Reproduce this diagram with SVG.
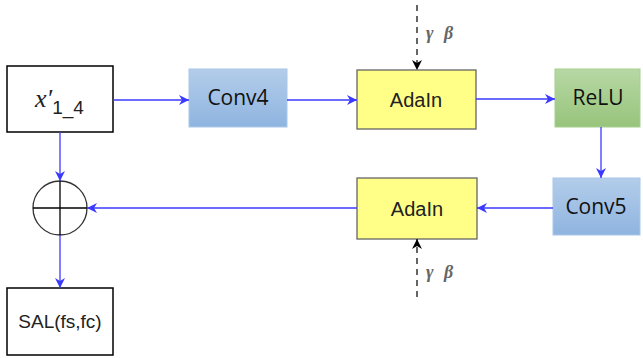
<svg xmlns="http://www.w3.org/2000/svg" width="643" height="358" viewBox="0 0 643 358">
<defs>
<linearGradient id="gBlue" x1="0" y1="0" x2="0" y2="1"><stop offset="0" stop-color="#b3cdea"/><stop offset="1" stop-color="#8fb4e0"/></linearGradient>
<linearGradient id="gGreen" x1="0" y1="0" x2="0" y2="1"><stop offset="0" stop-color="#b7d8a4"/><stop offset="1" stop-color="#97c47c"/></linearGradient>
<marker id="ab" viewBox="0 0 10 10" refX="10" refY="5" markerWidth="10" markerHeight="10" markerUnits="userSpaceOnUse" orient="auto"><path d="M0,0 L10,5 L0,10 L3,5 Z" fill="#3a3aff"/></marker>
<marker id="ak" viewBox="0 0 10 10" refX="10" refY="5" markerWidth="10" markerHeight="10" markerUnits="userSpaceOnUse" orient="auto"><path d="M0,0 L10,5 L0,10 L3,5 Z" fill="#000"/></marker>
</defs>
<style>
.plain{fill:#fff;stroke:#000;stroke-width:1.5}
.conv{fill:url(#gBlue);stroke:#a9c8ea;stroke-width:1}
.relu{fill:url(#gGreen);stroke:#a6d08e;stroke-width:1}
.ada{fill:#ffff88;stroke:#666;stroke-width:1.3}
.t{font-family:"Open Sans","Liberation Sans",sans-serif;font-size:21px;fill:#111;text-anchor:middle}
.ta{font-family:"Liberation Sans",sans-serif;font-size:20px;fill:#222;text-anchor:middle}
.ts{font-family:"Liberation Sans",sans-serif;font-size:19px;fill:#222;text-anchor:middle}
.blue{stroke:#3a3aff;stroke-width:1.3;fill:none}
.dash{stroke:#000;stroke-width:1.2;stroke-dasharray:6,5;fill:none}
.gb{font-family:"Liberation Serif",serif;font-style:italic;font-weight:bold;font-size:18px;fill:#666;letter-spacing:3px}
</style>
<g id="x14"><rect class="plain" x="7" y="66" width="106" height="66"/><text x="35" y="107" font-family="Liberation Serif,serif" font-style="italic" font-size="26" fill="#222">x′<tspan font-style="normal" font-family="Liberation Sans,sans-serif" font-size="19" dy="7">1_4</tspan></text></g>
<g id="conv4"><rect class="conv" x="189" y="69" width="98" height="58"/><text class="t" x="238" y="105">Conv4</text></g>
<g id="adain1"><rect class="ada" x="357" y="70" width="119" height="59"/><text class="ta" x="416" y="107">AdaIn</text></g>
<g id="relu"><rect class="relu" x="555" y="69" width="85" height="58"/><text class="t" x="598" y="105">ReLU</text></g>
<g id="conv5"><rect class="conv" x="553" y="178" width="87" height="57"/><text class="t" x="596" y="214">Conv5</text></g>
<g id="adain2"><rect class="ada" x="357" y="178" width="120" height="61"/><text class="ta" x="417" y="216">AdaIn</text></g>
<g id="sum"><circle cx="60" cy="208" r="27" fill="#fff" stroke="#333" stroke-width="1.3"/><line x1="33" y1="208" x2="87" y2="208" stroke="#000" stroke-width="1.3"/><line x1="60" y1="181" x2="60" y2="235" stroke="#000" stroke-width="1.3"/></g>
<g id="sal"><rect class="plain" x="7" y="288" width="106" height="67"/><text class="ts" x="60" y="328">SAL(fs,fc)</text></g>
<g id="connectors">
<line class="blue" x1="113" y1="100" x2="189" y2="100" marker-end="url(#ab)"/>
<line class="blue" x1="287" y1="100" x2="357" y2="100" marker-end="url(#ab)"/>
<line class="blue" x1="476" y1="99" x2="555" y2="99" marker-end="url(#ab)"/>
<line class="blue" x1="601" y1="127" x2="601" y2="178" marker-end="url(#ab)"/>
<line class="blue" x1="553" y1="208" x2="477" y2="208" marker-end="url(#ab)"/>
<line class="blue" x1="357" y1="208" x2="87" y2="208" marker-end="url(#ab)"/>
<line class="blue" x1="60" y1="132" x2="60" y2="181" marker-end="url(#ab)"/>
<line class="blue" x1="60" y1="235" x2="60" y2="288" marker-end="url(#ab)"/>
<line class="dash" x1="417" y1="5" x2="417" y2="70" marker-end="url(#ak)"/>
<line class="dash" x1="417" y1="297" x2="417" y2="239" marker-end="url(#ak)"/>
</g>
<text class="gb" x="426" y="39">γ β</text>
<text class="gb" x="426" y="278">γ β</text>
</svg>
